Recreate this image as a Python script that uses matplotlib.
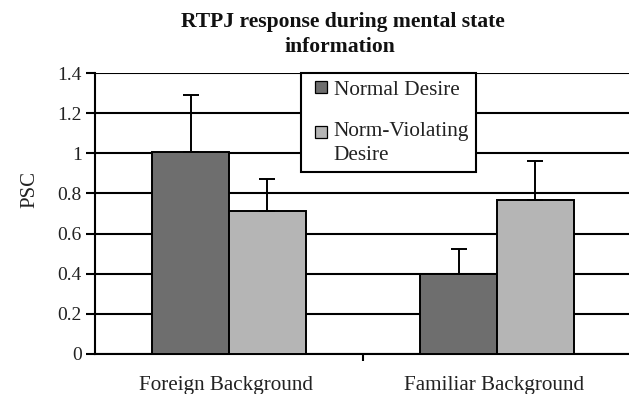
import matplotlib
matplotlib.use("Agg")
import matplotlib.pyplot as plt
import matplotlib.transforms as mtransforms
import numpy as np
from matplotlib.lines import Line2D

categories = ["Foreign Background", "Familiar Background"]
series_names = ["Normal Desire", "Norm-Violating\nDesire"]
normal_desire = [1.005, 0.40]
norm_violating = [0.71, 0.765]
normal_err = [0.285, 0.125]
violating_err = [0.162, 0.195]
y_ticks = [0, 0.2, 0.4, 0.6, 0.8, 1, 1.2, 1.4]
y_tick_labels = ["0", "0.2", "0.4", "0.6", "0.8", "1", "1.2", "1.4"]
title_lines = ["RTPJ response during mental state", "information"]

plt.rcParams["font.family"] = ["Liberation Serif", "DejaVu Serif"]

W, H = 629, 394
fig = plt.figure(figsize=(W / 100, H / 100), dpi=100)
ax = fig.add_axes([95 / W, 1 - 354 / H, (631 - 95) / W, (354 - 73) / H])

dark = "#6e6e6e"
light = "#b5b5b5"
x = np.arange(len(categories))
bw = 0.287

ax.set_axisbelow(True)
ax.yaxis.grid(True, color="black", linewidth=1.5)

ekw = dict(ecolor="black", elinewidth=1.4, capsize=5.5, capthick=1.4)
ax.bar(x - bw / 2, normal_desire, bw, color=dark, edgecolor="black",
       linewidth=1.4, zorder=3,
       yerr=[np.zeros(len(x)), normal_err], error_kw=ekw)
ax.bar(x + bw / 2, norm_violating, bw, color=light, edgecolor="black",
       linewidth=1.4, zorder=3,
       yerr=[np.zeros(len(x)), violating_err], error_kw=ekw)

ax.set_xlim(-0.5, 1.5)
ax.set_ylim(0, 1.4)
ax.set_yticks(y_ticks)
ax.set_yticklabels(y_tick_labels, fontsize=14, color="#222222")
ax.set_xticks([0.5])
ax.set_xticklabels([])
ax.tick_params(axis="y", direction="out", length=6.5, width=1.5, pad=3)
ax.tick_params(axis="x", direction="out", length=5, width=1.5)

for s in ["top", "right"]:
    ax.spines[s].set_visible(False)
ax.spines["left"].set_linewidth(1.5)
ax.spines["bottom"].set_linewidth(1.5)

# category names under each bar group
cat_trans = mtransforms.blended_transform_factory(ax.transData, fig.transFigure)
for xi, lab in zip(x, categories):
    ax.text(xi - 0.01, 1 - 390 / H, lab, ha="center", va="baseline",
            fontsize=15.2, color="#222222", transform=cat_trans)

fig.text(30 / W, 1 - 190 / H, "PSC", rotation=90, ha="center", va="center",
         fontsize=15, color="#222222")

fig.text(343 / W, 1 - 27 / H, title_lines[0], ha="center", va="baseline",
         fontsize=15.6, fontweight="bold", color="#111111")
fig.text(340 / W, 1 - 52 / H, title_lines[1], ha="center", va="baseline",
         fontsize=15.6, fontweight="bold", color="#111111")

handles = [Line2D([], [], linestyle="none", marker="s", markersize=9,
                  markerfacecolor=c, markeredgecolor="black",
                  markeredgewidth=0.9) for c in (dark, light)]
leg = ax.legend(handles, series_names, loc="upper left",
                bbox_to_anchor=((301 - 95) / (631 - 95), 1.0),
                fontsize=15.3, frameon=True, fancybox=False, framealpha=1,
                edgecolor="black", handlelength=1.2, handletextpad=0.0,
                borderpad=0.33, labelspacing=1.05, borderaxespad=0)
leg.get_frame().set_linewidth(1.5)
for t in leg.get_texts():
    t.set_color("#222222")
    t.set_linespacing(1.35)
leg.set_zorder(5)

# keep the swatch of the two-line entry level with its first line
h2 = leg.legend_handles[1]
h2.set_transform(h2.get_transform()
                 + mtransforms.ScaledTranslation(0, 0.11, fig.dpi_scale_trans))

fig.savefig("out.png", dpi=100)
